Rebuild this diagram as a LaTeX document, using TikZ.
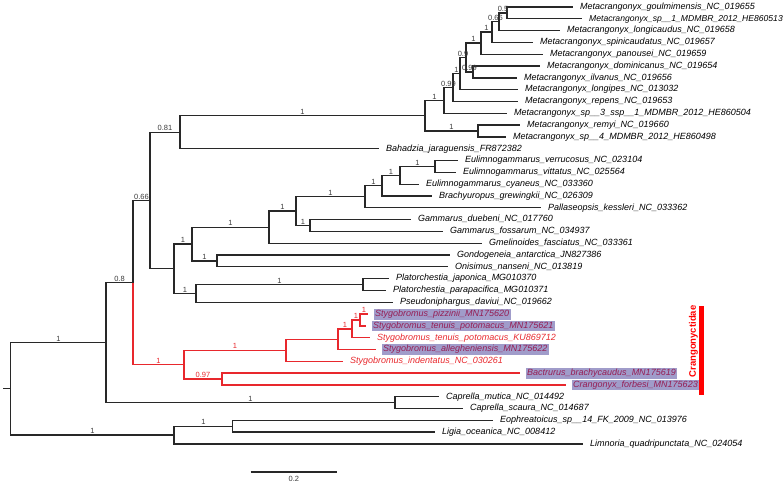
\documentclass[tikz,border=0pt]{standalone}
\usepackage{fontspec}
\setmainfont{Liberation Sans}
\usetikzlibrary{calc}
\definecolor{br}{RGB}{40,40,40}
\definecolor{rbr}{RGB}{232,40,45}
\definecolor{hl}{RGB}{160,156,202}
\definecolor{hltext}{RGB}{150,30,85}
\definecolor{suptxt}{RGB}{60,60,60}
\definecolor{barred}{RGB}{255,0,0}
\begin{document}
\begin{tikzpicture}[x=1pt,y=-1pt,
  edge/.style={draw=br,line width=1.3pt},
  redge/.style={draw=rbr,line width=1.3pt},
  supp/.style={font=\fontsize{7.5}{8}\selectfont,text=suptxt,inner sep=0.5pt,above=0.6pt},
  rsupp/.style={supp,text=rbr},
  tip/.style={anchor=west,xshift=5.5pt,inner xsep=1.5pt,inner ysep=1.2pt,font=\fontsize{9}{10}\selectfont\itshape,text height=6.5pt,text depth=1.9pt,text=black},
  rtip/.style={tip,text=rbr},
  htip/.style={tip,fill=hl,text=hltext},
]
\useasboundingbox (0,0) rectangle (784,484);
% leaves
\coordinate (l1) at (573,7.0);
\coordinate (l2) at (582,18.8);
\coordinate (l3) at (560,30.6);
\coordinate (l4) at (533,42.4);
\coordinate (l5) at (543,54.2);
\coordinate (l6) at (540,66.1);
\coordinate (l7) at (517,77.9);
\coordinate (l8) at (518,89.7);
\coordinate (l9) at (518,101.5);
\coordinate (l10) at (507,113.3);
\coordinate (l11) at (520,125.1);
\coordinate (l12) at (506,136.9);
\coordinate (l13) at (379,148.7);
\coordinate (l14) at (458,160.5);
\coordinate (l15) at (456,172.3);
\coordinate (l16) at (419,184.2);
\coordinate (l17) at (432,196.0);
\coordinate (l18) at (541,207.8);
\coordinate (l19) at (411,219.6);
\coordinate (l20) at (443,231.4);
\coordinate (l21) at (482,243.2);
\coordinate (l22) at (450,255.0);
\coordinate (l23) at (448,266.8);
\coordinate (l24) at (389,278.6);
\coordinate (l25) at (386,290.4);
\coordinate (l26) at (393,302.3);
\coordinate (l27) at (368,314.1);
\coordinate (l28) at (366,325.9);
\coordinate (l29) at (370,337.7);
\coordinate (l30) at (376,349.5);
\coordinate (l31) at (343,361.3);
\coordinate (l32) at (520,373.1);
\coordinate (l33) at (566,384.9);
\coordinate (l34) at (439,396.7);
\coordinate (l35) at (463,408.5);
\coordinate (l36) at (493,420.3);
\coordinate (l37) at (435,432.1);
\coordinate (l38) at (583,444.0);
% internal nodes
\coordinate (P1) at (507,12.9);
\coordinate (P2) at (499,21.75);
\coordinate (P3) at (492,32.1);
\coordinate (P4) at (481,43.15);
\coordinate (S) at (473,72.0);
\coordinate (P5) at (466,57.6);
\coordinate (Q) at (460,73.65);
\coordinate (C) at (453,87.6);
\coordinate (B) at (444,100.45);
\coordinate (M2) at (478,131.0);
\coordinate (A) at (425,115.7);
\coordinate (N81) at (180,132.2);
\coordinate (G10) at (435,166.4);
\coordinate (G9) at (400,175.3);
\coordinate (G8) at (382,185.65);
\coordinate (G7) at (365,196.7);
\coordinate (Gam) at (310,225.5);
\coordinate (G6) at (296,211.1);
\coordinate (G3) at (269,227.15);
\coordinate (G5) at (217,260.9);
\coordinate (G2) at (192,244.0);
\coordinate (Plat) at (363,284.5);
\coordinate (G4) at (196,293.4);
\coordinate (G1) at (174,268.7);
\coordinate (N66) at (150,200.45);
\coordinate (Y) at (360,320.0);
\coordinate (X) at (352,328.85);
\coordinate (N340) at (338,339.2);
\coordinate (N286) at (286,350.25);
\coordinate (Bc) at (222,379.0);
\coordinate (R184) at (184,364.6);
\coordinate (N80) at (133,282.5);
\coordinate (Cap) at (395,402.6);
\coordinate (N106) at (106,342.55);
\coordinate (E2) at (232.7,426.2);
\coordinate (N174) at (174,435.1);
\coordinate (Root) at (10.7,388.8);
\coordinate (stub) at (3,388.8);
% black edges
\foreach \p/\c in {P1/l1,P1/l2,P2/P1,P2/l3,P3/P2,P3/l4,P4/P3,P4/l5,S/l6,S/l7,P5/P4,P5/S,Q/P5,Q/l8,C/Q,C/l9,B/C,B/l10,M2/l11,M2/l12,A/B,A/M2,N81/A,N81/l13,
  G10/l14,G10/l15,G9/G10,G9/l16,G8/G9,G8/l17,G7/G8,G7/l18,Gam/l19,Gam/l20,G6/G7,G6/Gam,G3/G6,G3/l21,G5/l22,G5/l23,G2/G3,G2/G5,Plat/l24,Plat/l25,G4/Plat,G4/l26,G1/G2,G1/G4,N66/N81,N66/G1,
  N80/N66,Cap/l34,Cap/l35,N106/N80,N106/Cap,E2/l36,E2/l37,N174/E2,N174/l38,Root/N106,Root/N174}
  {\draw[edge] (\p) |- (\c);}
\draw[edge] (stub) -- (Root);
% red edges
\foreach \p/\c in {Y/l27,Y/l28,X/Y,X/l29,N340/X,N340/l30,N286/N340,N286/l31,Bc/l32,Bc/l33,R184/N286,R184/Bc,N80/R184}
  {\draw[redge] (\p) |- (\c);}
% support values
\foreach \p/\c/\v in {P2/P1/0.5,P3/P2/0.66,P4/P3/1,P5/P4/1,P5/S/0.99,Q/P5/0.9,C/Q/1,B/C/0.99,A/B/1,A/M2/1,N81/A/1,
  G9/G10/1,G8/G9/1,G7/G8/1,G6/G7/1,G6/Gam/1,G3/G6/1,G2/G3/1,G2/G5/1,G4/Plat/1,G1/G2/1,G1/G4/1,N66/N81/0.81,N80/N66/0.66,
  N106/N80/0.8,N106/Cap/1,N174/E2/1,Root/N106/1,Root/N174/1}
  {\path (\p |- \c) -- node[supp] {\v} (\c);}
\foreach \p/\c/\v in {Y/l27/1,X/Y/1,N340/X/1,R184/N286/1,R184/Bc/0.97,N80/R184/1}
  {\path (\p |- \c) -- node[rsupp] {\v} (\c);}
% tip labels
\node[tip] (t1) at (l1) {Metacrangonyx\_goulmimensis\_NC\_019655};
\node[tip,font=\fontsize{8.6}{10}\selectfont\itshape] (t2) at (l2) {Metacrangonyx\_sp\_\_1\_MDMBR\_2012\_HE860513};
\node[tip] (t3) at (l3) {Metacrangonyx\_longicaudus\_NC\_019658};
\node[tip] (t4) at (l4) {Metacrangonyx\_spinicaudatus\_NC\_019657};
\node[tip] (t5) at (l5) {Metacrangonyx\_panousei\_NC\_019659};
\node[tip] (t6) at (l6) {Metacrangonyx\_dominicanus\_NC\_019654};
\node[tip] (t7) at (l7) {Metacrangonyx\_ilvanus\_NC\_019656};
\node[tip] (t8) at (l8) {Metacrangonyx\_longipes\_NC\_013032};
\node[tip] (t9) at (l9) {Metacrangonyx\_repens\_NC\_019653};
\node[tip] (t10) at (l10) {Metacrangonyx\_sp\_\_3\_ssp\_\_1\_MDMBR\_2012\_HE860504};
\node[tip] (t11) at (l11) {Metacrangonyx\_remyi\_NC\_019660};
\node[tip] (t12) at (l12) {Metacrangonyx\_sp\_\_4\_MDMBR\_2012\_HE860498};
\node[tip] (t13) at (l13) {Bahadzia\_jaraguensis\_FR872382};
\node[tip] (t14) at (l14) {Eulimnogammarus\_verrucosus\_NC\_023104};
\node[tip] (t15) at (l15) {Eulimnogammarus\_vittatus\_NC\_025564};
\node[tip] (t16) at (l16) {Eulimnogammarus\_cyaneus\_NC\_033360};
\node[tip] (t17) at (l17) {Brachyuropus\_grewingkii\_NC\_026309};
\node[tip] (t18) at (l18) {Pallaseopsis\_kessleri\_NC\_033362};
\node[tip] (t19) at (l19) {Gammarus\_duebeni\_NC\_017760};
\node[tip] (t20) at (l20) {Gammarus\_fossarum\_NC\_034937};
\node[tip] (t21) at (l21) {Gmelinoides\_fasciatus\_NC\_033361};
\node[tip] (t22) at (l22) {Gondogeneia\_antarctica\_JN827386};
\node[tip] (t23) at (l23) {Onisimus\_nanseni\_NC\_013819};
\node[tip] (t24) at (l24) {Platorchestia\_japonica\_MG010370};
\node[tip] (t25) at (l25) {Platorchestia\_parapacifica\_MG010371};
\node[tip] (t26) at (l26) {Pseudoniphargus\_daviui\_NC\_019662};
\node[htip] (t27) at (l27) {Stygobromus\_pizzinii\_MN175620};
\node[htip] (t28) at (l28) {Stygobromus\_tenuis\_potomacus\_MN175621};
\node[rtip] (t29) at (l29) {Stygobromus\_tenuis\_potomacus\_KU869712};
\node[htip] (t30) at (l30) {Stygobromus\_allegheniensis\_MN175622};
\node[rtip] (t31) at (l31) {Stygobromus\_indentatus\_NC\_030261};
\node[htip] (t32) at (l32) {Bactrurus\_brachycaudus\_MN175619};
\node[htip] (t33) at (l33) {Crangonyx\_forbesi\_MN175623};
\node[tip] (t34) at (l34) {Caprella\_mutica\_NC\_014492};
\node[tip] (t35) at (l35) {Caprella\_scaura\_NC\_014687};
\node[tip] (t36) at (l36) {Eophreatoicus\_sp\_\_14\_FK\_2009\_NC\_013976};
\node[tip] (t37) at (l37) {Ligia\_oceanica\_NC\_008412};
\node[tip] (t38) at (l38) {Limnoria\_quadripunctata\_NC\_024054};
% family bar
\node[fill=barred,minimum width=5pt,minimum height=89pt,inner sep=0pt] (bar) at (701.5,350.5) {};
\node[rotate=90,text=barred,inner sep=0pt,font=\bfseries\fontsize{9.5}{10}\selectfont] (clab) at (693.5,341.5) {Crangonyctidae};
% scale bar
\coordinate (sb1) at (250.7,472);
\coordinate (sb2) at (337,472);
\draw[edge,line width=1.1pt] (sb1) -- node[font=\fontsize{7.5}{8}\selectfont,text=suptxt,below=3pt,inner sep=0.5pt] (sbl) {0.2} (sb2);
\end{tikzpicture}
\end{document}
